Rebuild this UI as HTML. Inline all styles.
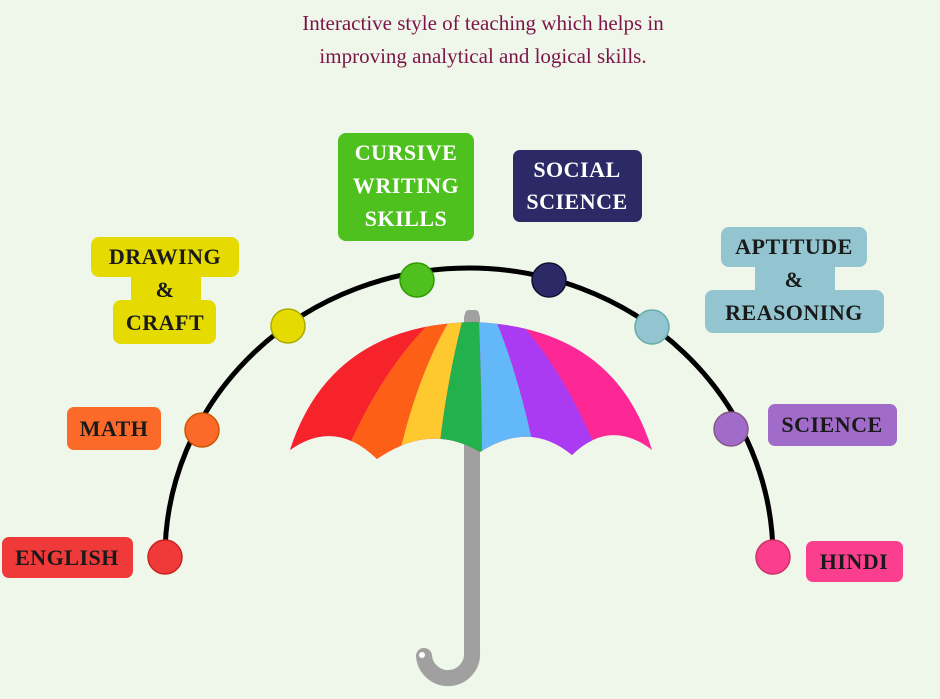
<!DOCTYPE html>
<html><head><style>
body{margin:0;background:#eef7ea;}
svg{display:block}
.l{font-family:"Liberation Serif",serif;font-weight:bold;font-size:22px;text-anchor:middle;letter-spacing:0.5px}
.t{font-family:"Liberation Serif",serif;font-size:21px;fill:#7c1449;text-anchor:middle}
</style></head><body>
<svg width="940" height="699" viewBox="0 0 940 699">
<defs>
<clipPath id="c"><path d="M471,322 Q330,326 290,450 Q335,418 377,459 Q430,422 480,452 Q530,420 572,455 Q610,418 652,450 Q614,326 471,322 Z"/></clipPath>
</defs>
<rect width="940" height="699" fill="#eef7ea"/>
<text class="t" x="483" y="30">Interactive style of teaching which helps in</text>
<text class="t" x="483" y="63">improving analytical and logical skills.</text>
<path d="M165,557 A303,288 0 0 1 773,557" fill="none" stroke="#000" stroke-width="5"/>
<path d="M472,318 L472,652 A24,24 0 0 1 424,656" fill="none" stroke="#a0a0a0" stroke-width="16" stroke-linecap="round"/>
<circle cx="422" cy="655" r="3" fill="#fff"/>
<rect x="465" y="310" width="14" height="14" rx="4" fill="#a0a0a0"/>
<g clip-path="url(#c)">
<rect x="250" y="300" width="440" height="180" fill="#fd2895"/>
<path d="M250,300 L455,300 Q380,360 335,480 L250,480Z" fill="#f7232b"/>
<path d="M455,300 L462,300 Q415,370 394,480 L335,480 Q380,360 455,300Z" fill="#fd5f17"/>
<path d="M462,300 L468,300 Q445,380 436,480 L394,480 Q415,370 462,300Z" fill="#fec82f"/>
<path d="M468,300 L478,300 Q482,380 482,480 L436,480 Q445,380 468,300Z" fill="#22b14c"/>
<path d="M478,300 L487,300 Q520,370 540,480 L482,480 Q482,380 478,300Z" fill="#62b8f8"/>
<path d="M487,300 L497,300 Q565,360 608,480 L540,480 Q520,370 487,300Z" fill="#ab3bf2"/>
</g>
<g stroke-width="1.5">
<circle cx="165" cy="557" r="17" fill="#f03a3a" stroke="#c22"/>
<circle cx="202" cy="430" r="17" fill="#fc6a2a" stroke="#c50"/>
<circle cx="288" cy="326" r="17" fill="#e6db00" stroke="#aa0"/>
<circle cx="417" cy="280" r="17" fill="#4fc11e" stroke="#390"/>
<circle cx="549" cy="280" r="17" fill="#2c2a66" stroke="#113"/>
<circle cx="652" cy="327" r="17" fill="#92c5d0" stroke="#6aa"/>
<circle cx="731" cy="429" r="17" fill="#a16bc9" stroke="#858"/>
<circle cx="773" cy="557" r="17" fill="#fb3f8e" stroke="#c36"/>
</g>
<rect x="2" y="537" width="131" height="41" rx="7" fill="#f03a3a"/>
<text class="l" x="67" y="565" fill="#1a1a1a">ENGLISH</text>
<rect x="67" y="407" width="94" height="43" rx="7" fill="#fc6a2a"/>
<text class="l" x="114" y="436" fill="#1a1a1a">MATH</text>
<g fill="#e6db00">
<rect x="91" y="237" width="148" height="40" rx="8"/>
<rect x="131" y="270" width="70" height="36"/>
<rect x="113" y="300" width="103" height="44" rx="8"/>
</g>
<text class="l" x="165" y="264" fill="#1a1a1a">DRAWING</text>
<text class="l" x="165" y="297" fill="#1a1a1a">&amp;</text>
<text class="l" x="165" y="330" fill="#1a1a1a">CRAFT</text>
<rect x="338" y="133" width="136" height="108" rx="8" fill="#4fc11e"/>
<text class="l" x="406" y="160" fill="#fff">CURSIVE</text>
<text class="l" x="406" y="193" fill="#fff">WRITING</text>
<text class="l" x="406" y="226" fill="#fff">SKILLS</text>
<rect x="513" y="150" width="129" height="72" rx="7" fill="#2c2a66"/>
<text class="l" x="577" y="177" fill="#fff">SOCIAL</text>
<text class="l" x="577" y="209" fill="#fff">SCIENCE</text>
<g fill="#92c5d0">
<rect x="721" y="227" width="146" height="40" rx="8"/>
<rect x="755" y="260" width="80" height="36"/>
<rect x="705" y="290" width="179" height="43" rx="8"/>
</g>
<text class="l" x="794" y="254" fill="#1a1a1a">APTITUDE</text>
<text class="l" x="794" y="287" fill="#1a1a1a">&amp;</text>
<text class="l" x="794" y="320" fill="#1a1a1a">REASONING</text>
<rect x="768" y="404" width="129" height="42" rx="7" fill="#a16bc9"/>
<text class="l" x="832" y="432" fill="#1a1a1a">SCIENCE</text>
<rect x="806" y="541" width="97" height="41" rx="7" fill="#fb3f8e"/>
<text class="l" x="854" y="569" fill="#1a1a1a">HINDI</text>
</svg>
</body></html>
